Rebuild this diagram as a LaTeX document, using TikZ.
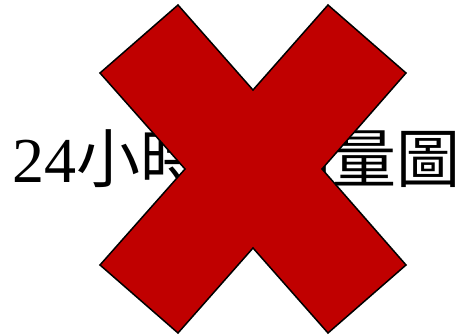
\documentclass[tikz,border=0pt]{standalone}
\usepackage{fontspec}
\setmainfont{Liberation Serif}
\newfontfamily\cjk{Noto Sans CJK TC}
\usepackage{xcolor}
\usepackage{tikz}
\definecolor{crossred}{RGB}{192,0,0}

\begin{document}
\begin{tikzpicture}[x=1pt, y=-1pt]
  \useasboundingbox (0,0) rectangle (455,336);
  \node[anchor=base west, inner sep=0pt, font=\fontsize{64}{64}\selectfont] (title) at (12,183) {24{\cjk 小時降雨量圖}};
  \draw[draw=black, fill=crossred, line width=1.5pt, line join=miter]
  (178,5) -- (253,90) -- (328,5) -- (406,73) -- (322,169) -- (406,265) -- (328,333)
  -- (253,248) -- (178,333) -- (100,265) -- (185,169) -- (100,73) -- cycle;
\end{tikzpicture}
\end{document}
